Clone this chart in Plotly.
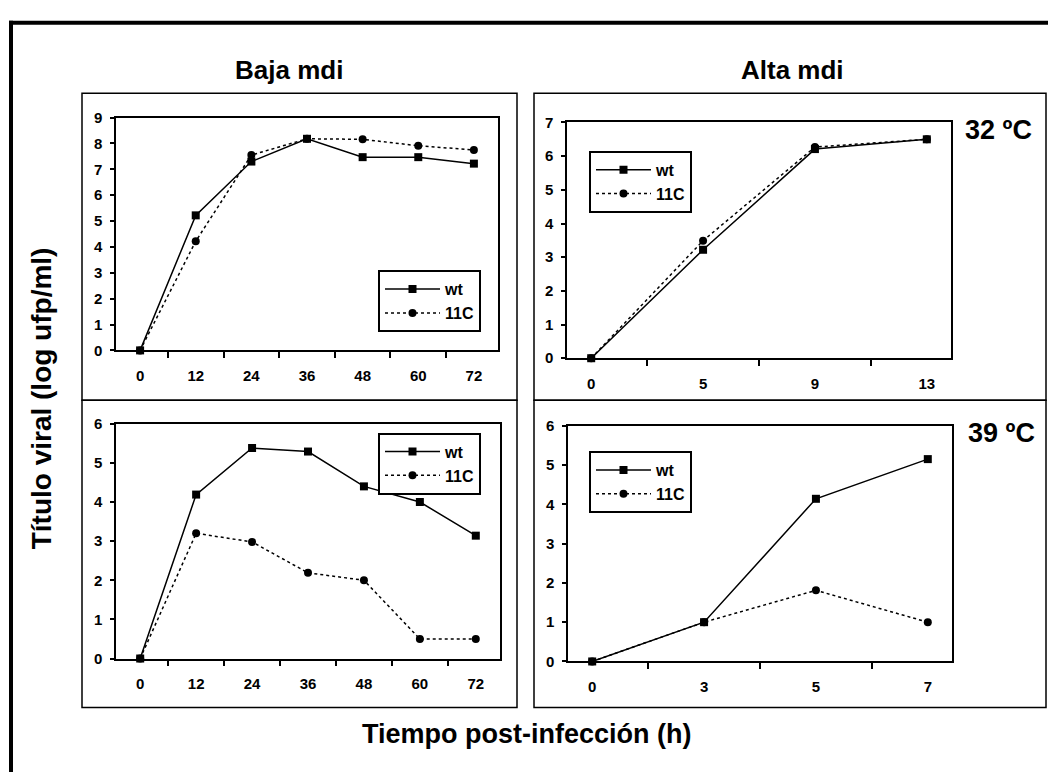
import plotly.graph_objects as go

W, H = 1048, 780

# ---- data ----
t_baja = ["0", "12", "24", "36", "48", "60", "72"]
t_alta32 = ["0", "5", "9", "13"]
t_alta39 = ["0", "3", "5", "7"]

baja32_wt = [0, 5.22, 7.3, 8.18, 7.47, 7.47, 7.22]
baja32_11c = [0, 4.22, 7.55, 8.18, 8.16, 7.91, 7.75]
alta32_wt = [0, 3.22, 6.21, 6.5]
alta32_11c = [0, 3.49, 6.27, 6.5]
baja39_wt = [0, 4.19, 5.38, 5.29, 4.4, 4.0, 3.14]
baja39_11c = [0, 3.2, 2.98, 2.19, 2.0, 0.5, 0.5]
alta39_wt = [0, 1.0, 4.14, 5.15]
alta39_11c = [0, 1.0, 1.81, 1.0]

FONT = "Liberation Sans, Arial, sans-serif"

def px(x):
    return x / W

def py(y):
    return 1 - y / H

# plot area pixel boxes (x0, x1, y_top, y_bottom)
areas = [
    (116, 498, 111, 349),   # top-left
    (567, 951, 116, 357),   # top-right
    (116, 500, 424, 664),   # bottom-left
    (568, 952, 426, 667),   # bottom-right
]

fig = go.Figure()

panels = [
    (t_baja, baja32_wt, baja32_11c, 9, (378, 267)),
    (t_alta32, alta32_wt, alta32_11c, 7, (589, 145)),
    (t_baja, baja39_wt, baja39_11c, 6, (378, 433)),
    (t_alta39, alta39_wt, alta39_11c, 6, (589, 452)),
]

for i, (cats, wt, c11, ymax, legpos) in enumerate(panels):
    n = i + 1
    xa = "x" if n == 1 else f"x{n}"
    ya = "y" if n == 1 else f"y{n}"
    lg = "legend" if n == 1 else f"legend{n}"
    fig.add_trace(go.Scatter(
        x=cats, y=wt, name="wt", mode="lines+markers",
        line=dict(color="black", width=1.5),
        marker=dict(symbol="square", size=8, color="black"),
        xaxis=xa, yaxis=ya, legend=lg, cliponaxis=False))
    fig.add_trace(go.Scatter(
        x=cats, y=c11, name="11C", mode="lines+markers",
        line=dict(color="black", width=1.5, dash="3px,3px"),
        marker=dict(symbol="circle", size=8, color="black"),
        xaxis=xa, yaxis=ya, legend=lg, cliponaxis=False))

    x0, x1, yt, yb = areas[i]
    axis_common = dict(showline=True, mirror=True, linecolor="black", linewidth=1.5,
                       showgrid=False, zeroline=False, ticks="outside",
                       tickcolor="black", tickwidth=1.5,
                       tickfont=dict(family=FONT, size=15, color="black", weight="bold"))
    xkey = "xaxis" if n == 1 else f"xaxis{n}"
    ykey = "yaxis" if n == 1 else f"yaxis{n}"
    fig.update_layout(**{
        xkey: dict(domain=[px(x0), px(x1)], anchor=ya, type="category",
                   tickson="boundaries", ticklen=6, ticklabelstandoff=11, **axis_common),
        ykey: dict(domain=[py(yb), py(yt)], anchor=xa, range=[0, ymax], dtick=1,
                   ticklen=4, ticklabelstandoff=5, **axis_common),
        lg: dict(x=px(legpos[0]), y=py(legpos[1]), xanchor="left", yanchor="top",
                 bordercolor="black", borderwidth=2, bgcolor="white",
                 font=dict(family=FONT, size=16, color="black", weight="bold"),
                 tracegroupgap=0, itemwidth=55),
    })

shapes = []
# outer frame (thick, top and left)
shapes.append(dict(type="line", xref="paper", yref="paper", x0=px(9), x1=px(1048), y0=py(14), y1=py(14),
                   line=dict(color="black", width=4)))
shapes.append(dict(type="line", xref="paper", yref="paper", x0=px(11), x1=px(11), y0=py(12), y1=py(780),
                   line=dict(color="black", width=4)))
# panel boxes
for (bx0, bx1, by0, by1) in [(82, 517, 86, 400), (534, 1046, 86, 400),
                             (82, 517, 400, 714), (534, 1046, 400, 714)]:
    shapes.append(dict(type="rect", xref="paper", yref="paper",
                       x0=px(bx0), x1=px(bx1), y0=py(by1), y1=py(by0),
                       line=dict(color="black", width=1.5), layer="below"))

def big(size):
    return dict(family=FONT, size=size, color="black", weight="bold")

annotations = [
    dict(text="Baja mdi", x=px(289), y=py(62), font=big(26)),
    dict(text="Alta mdi", x=px(792), y=py(62), font=big(26)),
    dict(text="32 ºC", x=px(998), y=py(124), font=big(27)),
    dict(text="39 ºC", x=px(1001), y=py(433), font=big(27)),
    dict(text="Tiempo post-infección (h)", x=px(527), y=py(741), font=big(27)),
    dict(text="Título viral (log ufp/ml)", x=px(41), y=py(398), textangle=-90, font=big(28)),
]
for a in annotations:
    a.update(xref="paper", yref="paper", showarrow=False,
             xanchor="center", yanchor="middle")

fig.update_layout(width=W, height=H, margin=dict(l=0, r=0, t=0, b=0),
                  paper_bgcolor="white", plot_bgcolor="white",
                  shapes=shapes, annotations=annotations, showlegend=True)

fig.write_html("out.html")
